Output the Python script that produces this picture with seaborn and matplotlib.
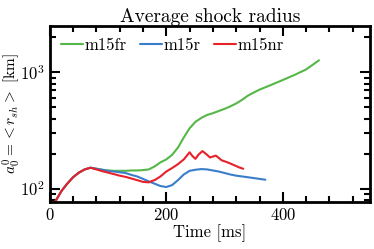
import matplotlib
matplotlib.use("Agg")
import matplotlib.pyplot as plt
import seaborn as sns
import pandas as pd
from matplotlib.ticker import MultipleLocator

# values (time in ms, radius in km)
t_fr = [8, 15, 20, 30, 40, 50, 60, 70, 80, 90, 100, 110, 120, 130, 140, 150, 160, 170,
        180, 190, 200, 210, 220, 230, 240, 250, 260, 270, 280, 290, 300, 310, 320, 330,
        340, 350, 360, 380, 400, 420, 440, 462]
r_fr = [75, 86, 95, 110, 125, 137, 146, 151, 148, 145, 143, 142, 142, 142, 143, 143, 144, 146,
        155, 168, 178, 195, 225, 275, 330, 375, 405, 430, 445, 465, 485, 510, 540, 580,
        630, 670, 710, 780, 860, 950, 1060, 1270]

t_r = [8, 15, 20, 30, 40, 50, 60, 70, 80, 90, 100, 110, 120, 130, 140, 150, 160, 170, 180,
       190, 200, 210, 220, 230, 240, 250, 260, 270, 280, 290, 300, 310, 320, 330, 340, 350,
       360, 370]
r_r = [75, 86, 95, 110, 125, 137, 146, 151, 148, 145, 142, 140, 138, 136, 131, 127, 121, 115, 110,
       105, 103, 107, 118, 132, 142, 145, 147, 146, 143, 140, 136, 132, 129, 127, 125, 123,
       121, 119]

t_nr = [8, 15, 20, 30, 40, 50, 60, 70, 80, 90, 100, 110, 120, 130, 140, 150, 160, 170, 175,
        180, 190, 200, 210, 220, 230, 240, 245, 250, 255, 262, 270, 275, 285, 295, 305, 315,
        325, 332]
r_nr = [75, 86, 95, 110, 125, 137, 146, 151, 146, 141, 137, 133, 129, 126, 122, 118, 114, 113, 116,
        118, 127, 140, 150, 162, 178, 205, 190, 180, 195, 210, 195, 185, 192, 175, 168, 160,
        152, 148]

labels = ["m15fr", "m15r", "m15nr"]
colors = ["#55b748", "#3a7dc9", "#e8202a"]

df = pd.concat([
    pd.DataFrame({"t": t_fr, "r": r_fr, "model": labels[0]}),
    pd.DataFrame({"t": t_r, "r": r_r, "model": labels[1]}),
    pd.DataFrame({"t": t_nr, "r": r_nr, "model": labels[2]}),
])

sns.set_style("ticks")
plt.rcParams["font.family"] = "serif"
plt.rcParams["font.serif"] = ["cmr10", "DejaVu Serif"]
plt.rcParams["mathtext.fontset"] = "cm"
plt.rcParams["axes.formatter.use_mathtext"] = True
plt.rcParams["text.color"] = "black"
plt.rcParams["axes.labelcolor"] = "black"

fig, ax = plt.subplots(figsize=(3.74, 2.49), dpi=100)
sns.lineplot(data=df, x="t", y="r", hue="model", palette=colors, lw=1.5, ax=ax)

ax.set_yscale("log")
ax.set_xlim(0, 550)
ax.set_ylim(77, 2500)
ax.xaxis.set_major_locator(MultipleLocator(200))
ax.xaxis.set_minor_locator(MultipleLocator(40))
ax.tick_params(which="both", direction="in", top=True, right=True, width=1.5,
               color="black", labelcolor="black", labelsize=12)
ax.tick_params(which="major", length=7)
ax.tick_params(which="minor", length=4)
for s in ax.spines.values():
    s.set_linewidth(2)
    s.set_color("black")

ax.set_title("Average shock radius", fontsize=14, pad=3)
ax.set_xlabel("Time [ms]", fontsize=12, labelpad=1)
ax.set_ylabel(r"$a_0^0 = < r_{sh} >$ [km]", fontsize=11)
ax.yaxis.set_label_coords(-0.088, 0.5)
ax.legend(loc="upper left", ncol=3, frameon=False, fontsize=12, handlelength=1.3,
          handletextpad=0.1, columnspacing=0.8, borderaxespad=0.3)

fig.subplots_adjust(left=0.133, right=0.99, top=0.895, bottom=0.19)
fig.savefig("out.png", dpi=100)
